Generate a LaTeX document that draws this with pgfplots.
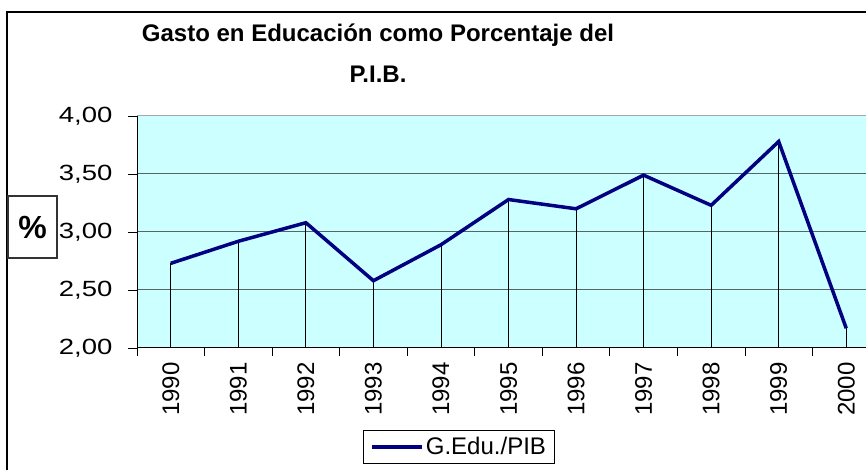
\documentclass[border=0pt]{standalone}
\usepackage{fontspec}
\setmainfont{Liberation Sans}
\newfontfamily\ytickfont[FakeStretch=1.25]{Liberation Sans}
\usepackage{pgfplots}
\pgfplotsset{compat=1.18}
\definecolor{navyline}{RGB}{0,0,128}
\definecolor{plotbg}{RGB}{204,255,255}
\definecolor{gridc}{RGB}{90,100,100}
\begin{document}
\begin{tikzpicture}[x=1pt,y=1pt]
\draw[line width=2pt] (7,-30) -- (7,458) -- (900,458);
\begin{axis}[
  at={(137pt,122pt)}, anchor=south west,
  scale only axis, width=743pt, height=232pt,
  xmin=-0.5, xmax=10.5, ymin=2, ymax=4,
  xtick={0,...,10},
  xticklabels={1990,1991,1992,1993,1994,1995,1996,1997,1998,1999,2000},
  minor xtick={-0.5,0.5,...,10.5},
  ytick={2,2.5,3,3.5,4},
  tick align=outside,
  major x tick style={draw=none},
  major tick length=9pt,
  minor tick length=8pt,
  minor x tick style={black, line width=0.8pt},
  ytick style={black, line width=0.8pt},
  xtick pos=bottom, ytick pos=left,
  ymajorgrids,
  major grid style={gridc, line width=1pt},
  axis line style={draw=gray!70, line width=1pt},
  axis background/.style={fill=plotbg},
  /pgf/number format/.cd, fixed, fixed zerofill, precision=2, use comma, assume math mode=true,
  /pgfplots/.cd,
  yticklabel style={font=\ytickfont\fontsize{22}{24}\selectfont, anchor=east, xshift=-12pt},
  xticklabel style={font=\fontsize{24}{26}\selectfont, rotate=90, anchor=east, xshift=-2pt},
  legend style={at={(axis description cs:0.304,-0.353)}, anchor=north west,
    draw=black, line width=1pt, fill=white, font=\fontsize{24}{27}\selectfont,
    inner xsep=7pt, inner ysep=5pt, legend cell align=left},
  legend image code/.code={\draw[#1] (0pt,0pt) -- (50pt,0pt);},
]
\addplot[ycomb, black, line width=0.8pt, forget plot] coordinates {
 (0,2.73) (1,2.92) (2,3.08) (3,2.58) (4,2.89) (5,3.28) (6,3.20) (7,3.49) (8,3.23) (9,3.78) (10,2.17)};
\addplot[navyline, line width=3.5pt] coordinates {
 (0,2.73) (1,2.92) (2,3.08) (3,2.58) (4,2.89) (5,3.28) (6,3.20) (7,3.49) (8,3.23) (9,3.78) (10,2.17)};
\addlegendentry{G.Edu./PIB\hspace{5pt}}
\draw[black, line width=1pt] (rel axis cs:0,0) -- (rel axis cs:1,0);
\draw[black, line width=1pt] (rel axis cs:0,0) -- (rel axis cs:0,1);
\end{axis}
\node[font=\bfseries\fontsize{24}{41}\selectfont, align=center, anchor=base] at (378,387) {Gasto en Educación como Porcentaje del\\P.I.B.};
\node[draw=black!80, line width=1.2pt, minimum width=49pt, minimum height=62pt, inner sep=0pt, font=\bfseries\fontsize{32}{34}\selectfont] at (32.5,243) {\%};
\pgfresetboundingbox
\useasboundingbox (0,0) rectangle (866,470);
\end{tikzpicture}
\end{document}
